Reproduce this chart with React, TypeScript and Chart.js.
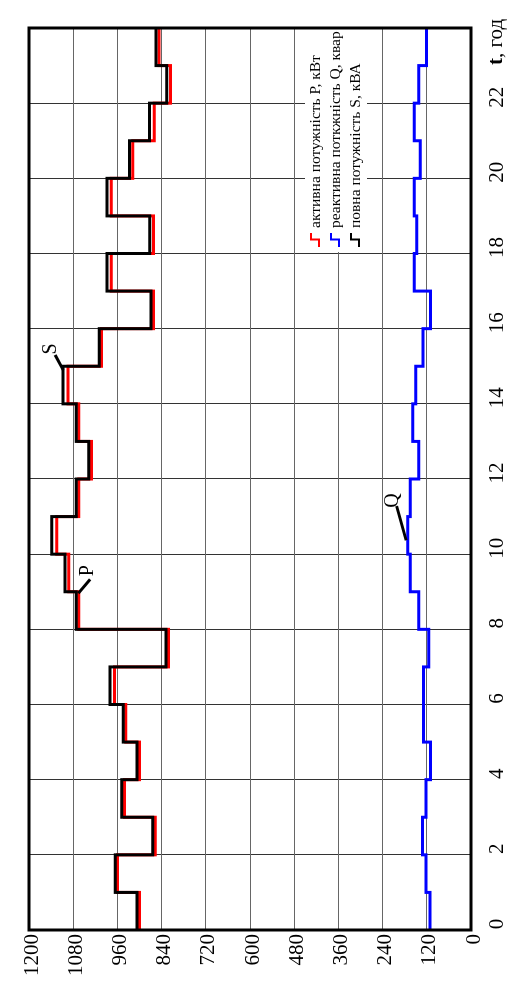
import React, { useEffect, useRef } from 'react';
import { Chart, registerables } from 'chart.js';

Chart.register(...registerables);

// Hour at which each one-hour step starts
const hourStarts = [0, 1, 2, 3, 4, 5, 6, 7, 8, 9, 10, 11, 12, 13, 14, 15, 16, 17, 18, 19, 20, 21, 22, 23];
const periodEnd = 24;

// активна потужність P, кВт
const activeP = [900, 960, 857, 941, 900, 937, 968, 821, 1065, 1092, 1125, 1065, 1030, 1065, 1094, 1003, 862, 977, 862, 977, 918, 860, 816, 847];
// реактивна потужність Q, квар
const reactiveQ = [111, 122, 132, 122, 110, 129, 129, 115, 142, 165, 172, 165, 142, 158, 150, 130, 110, 154, 147, 154, 138, 154, 142, 121];
// повна потужність S, кВА
const apparentS = [907, 966, 864, 948, 907, 944, 980, 828, 1072, 1102, 1138, 1072, 1038, 1072, 1108, 1009, 869, 988, 872, 988, 927, 873, 826, 855];

const legendLabels = ['активна потужність P, кВт', 'реактивна поткжність Q, квар', 'повна потужність S, кВА'];
const legendColors = ['#ff0000', '#0000ff', '#000000'];
const axisTitle = ['t', ', год'];

// Curve labels: [time, value] of text, and leader line ends
const curveLabels = [
  { text: 'P', at: [9.56, 1040], from: [8.96, 1066], to: [9.33, 1034] },
  { text: 'S', at: [15.46, 1140], from: [14.9, 1107], to: [15.3, 1129] },
  { text: 'Q', at: [11.43, 212], from: [10.37, 176], to: [11.28, 202] },
];

const FONT = "'Liberation Serif', 'Times New Roman', serif";

function toPoints(values: number[]) {
  const pts = hourStarts.map((h, i) => ({ x: h, y: values[i] }));
  pts.push({ x: periodEnd, y: values[values.length - 1] });
  return pts;
}

const overlay = {
  id: 'overlay',
  afterDraw(chart: any) {
    const { ctx, chartArea: a, scales } = chart;
    const xs = scales.x;
    const ys = scales.y;
    ctx.save();

    // legend box
    const bx = 732;
    const by = 305;
    ctx.fillStyle = '#ffffff';
    ctx.fillRect(bx, by, a.right - bx, 62);
    ctx.font = `15.5px ${FONT}`;
    ctx.textBaseline = 'middle';
    ctx.textAlign = 'left';
    legendLabels.forEach((lab, i) => {
      const cy = 315 + i * 20;
      ctx.strokeStyle = legendColors[i];
      ctx.lineWidth = 2;
      ctx.beginPath();
      ctx.moveTo(737, cy + 4);
      ctx.lineTo(744.5, cy + 4);
      ctx.lineTo(744.5, cy - 4);
      ctx.lineTo(751, cy - 4);
      ctx.stroke();
      ctx.fillStyle = '#000';
      ctx.fillText(lab, 756, cy + 1);
    });

    // curve labels
    ctx.fillStyle = '#000';
    ctx.strokeStyle = '#000';
    ctx.font = `20px ${FONT}`;
    ctx.textAlign = 'center';
    ctx.textBaseline = 'middle';
    curveLabels.forEach((c) => {
      ctx.lineWidth = 3;
      ctx.beginPath();
      ctx.moveTo(xs.getPixelForValue(c.from[0]), ys.getPixelForValue(c.from[1]));
      ctx.lineTo(xs.getPixelForValue(c.to[0]), ys.getPixelForValue(c.to[1]));
      ctx.stroke();
      ctx.fillText(c.text, xs.getPixelForValue(c.at[0]), ys.getPixelForValue(c.at[1]));
    });

    // frame
    ctx.lineWidth = 3;
    ctx.strokeStyle = '#000';
    ctx.strokeRect(a.left, a.top, a.right - a.left, a.bottom - a.top);

    // axis title "t, год"
    ctx.textAlign = 'left';
    ctx.textBaseline = 'alphabetic';
    ctx.font = `bold 21px ${FONT}`;
    const tx = 919;
    ctx.fillText(axisTitle[0], tx, 502);
    const w = ctx.measureText(axisTitle[0]).width;
    ctx.font = `21px ${FONT}`;
    ctx.fillText(axisTitle[1], tx + w, 502);

    ctx.restore();
  },
};

export default function App() {
  const ref = useRef<HTMLCanvasElement | null>(null);
  useEffect(() => {
    if (!ref.current) return;
    const tickFont = { family: FONT, size: 21 };
    const chart = new Chart(ref.current, {
      type: 'line',
      data: {
        datasets: [
          { label: 'S', data: toPoints(apparentS), borderColor: '#000000', borderWidth: 3, stepped: 'before', pointRadius: 0, order: 0 },
          { label: 'P', data: toPoints(activeP), borderColor: '#ff0000', borderWidth: 3, stepped: 'before', pointRadius: 0, order: 1 },
          { label: 'Q', data: toPoints(reactiveQ), borderColor: '#0000ff', borderWidth: 3, stepped: 'before', pointRadius: 0, order: 2 },
        ],
      } as any,
      options: {
        responsive: false,
        animation: false,
        devicePixelRatio: 1,
        layout: { padding: { left: 0, right: 28, top: 29, bottom: 0 } },
        plugins: { legend: { display: false }, tooltip: { enabled: false } },
        scales: {
          x: {
            type: 'linear',
            min: 0,
            max: 24,
            ticks: {
              stepSize: 2,
              autoSkip: false,
              maxRotation: 0,
              padding: 14,
              labelOffset: 6,
              color: '#000',
              font: tickFont,
              callback: (v: any) => (v === 24 ? '' : String(v)),
            },
            grid: { color: '#333', lineWidth: 1, drawTicks: false },
            border: { display: false },
            afterFit: (s: any) => {
              s.height = 45;
            },
          },
          y: {
            type: 'linear',
            min: 0,
            max: 1200,
            ticks: {
              stepSize: 120,
              padding: 4,
              labelOffset: 3,
              color: '#000',
              font: tickFont,
              callback: (v: any) => String(v),
            },
            grid: { color: '#666', lineWidth: 1, drawTicks: false },
            border: { display: false },
            afterFit: (s: any) => {
              s.width = 54;
            },
          },
        },
      } as any,
      plugins: [overlay],
    });
    return () => chart.destroy();
  }, []);

  return (
    <div style={{ position: 'fixed', left: 0, top: 0, width: 516, height: 984, overflow: 'hidden', background: '#fff' }}>
      <div
        style={{
          position: 'absolute',
          left: 0,
          top: 0,
          width: 984,
          height: 516,
          transformOrigin: '0 0',
          transform: 'translateY(984px) rotate(-90deg)',
        }}
      >
        <canvas ref={ref} width={984} height={516} style={{ display: 'block' }} />
      </div>
    </div>
  );
}
